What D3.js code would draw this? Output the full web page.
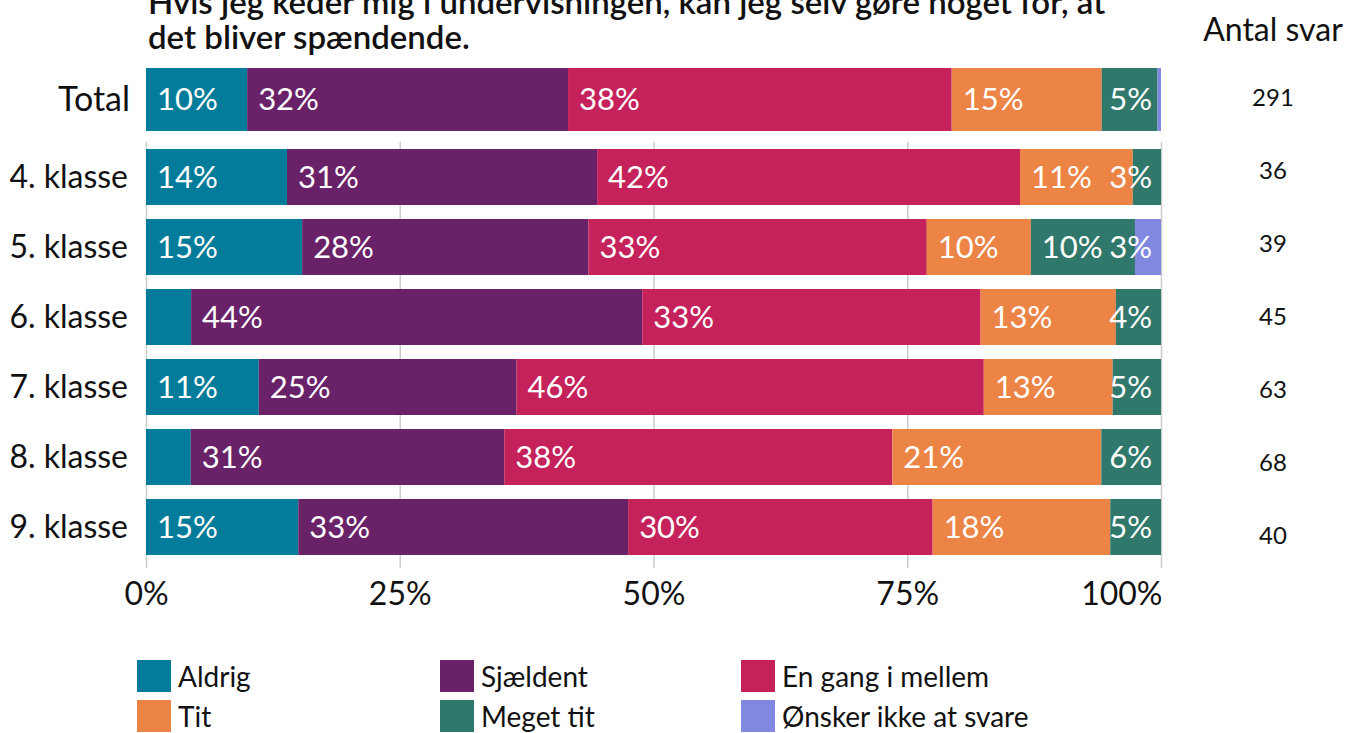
<!DOCTYPE html>
<html>
<head>
<meta charset="utf-8">
<script src="https://cdn.jsdelivr.net/npm/d3@7"></script>
<style>
  html, body { margin: 0; padding: 0; background: #fff; }
  svg { display: block; font-family: Lato, "Open Sans", sans-serif; }
</style>
</head>
<body>
<svg id="chart" width="1347" height="733"></svg>
<script>
// Answer categories (stack order) and their colours
const categories = ["Aldrig", "Sjældent", "En gang i mellem", "Tit", "Meget tit", "Ønsker ikke at svare"];
const colors = ["#037b9a", "#692168", "#c5215a", "#ec8446", "#31786c", "#8088e0"];

// Rows: grade levels and number of answers per category
const grades = ["4. klasse", "5. klasse", "6. klasse", "7. klasse", "8. klasse", "9. klasse"];
const aldrig   = [5, 6, 2, 7, 3, 6];
const sjaeldent = [11, 11, 20, 16, 21, 13];
const engang   = [15, 13, 15, 29, 26, 12];
const tit      = [4, 4, 6, 8, 14, 7];
const megetTit = [1, 4, 2, 3, 4, 2];
const oensker  = [0, 1, 0, 0, 0, 0];

const xTicks = [0, 0.25, 0.5, 0.75, 1];
const titleLines = ["Hvis jeg keder mig i undervisningen, kan jeg selv gøre noget for, at", "det bliver spændende."];
const countHeader = "Antal svar";

const seriesCounts = [aldrig, sjaeldent, engang, tit, megetTit, oensker];
const sum = arr => arr.reduce((a, b) => a + b, 0);

// Build rows (Total first)
const rows = [];
const totalCounts = seriesCounts.map(s => sum(s));
rows.push({ name: "Total", counts: totalCounts, n: sum(totalCounts) });
grades.forEach((g, i) => {
  const c = seriesCounts.map(s => s[i]);
  rows.push({ name: g, counts: c, n: sum(c) });
});

const svg = d3.select("#chart");
const fontSize = 31;

const x = d3.scaleLinear().domain([0, 1]).range([146, 1161]);
const yTotal = d3.scaleBand().domain(["Total"]).range([68, 131]);
const yGrades = d3.scaleBand().domain(grades).range([142, 562]).paddingInner(0.2).paddingOuter(0.1);
const yCount = d3.scalePoint().domain(rows.map(r => r.name)).range([98, 536]);

const yPos = name => name === "Total" ? yTotal(name) : yGrades(name);
const yBw = name => name === "Total" ? yTotal.bandwidth() : yGrades.bandwidth();

// Title
svg.append("g").selectAll("text").data(titleLines).join("text")
  .attr("x", 148).attr("y", (d, i) => 14 + i * 35)
  .attr("font-size", 33).attr("font-weight", 600).attr("fill", "#111")
  .text(d => d);

// Grid / axis for the grade panel
const axis = d3.axisBottom(x).tickValues(xTicks).tickFormat(d3.format(".0%")).tickSize(568 - 142).tickPadding(14);
const axG = svg.append("g").attr("transform", "translate(0,142)").call(axis);
axG.select(".domain").remove();
axG.selectAll(".tick line").attr("stroke", "#cccccc").attr("stroke-width", 1.5);
axG.selectAll(".tick text").attr("font-size", 32).attr("fill", "#111").attr("font-family", "Lato, sans-serif")
  .attr("text-anchor", d => d === 1 ? "end" : "middle")
  .attr("dx", d => d === 1 ? 1 : 0);

// Stacked segments
const stack = rows.map(r => {
  let acc = 0;
  return r.counts.map((c, k) => {
    const v = c / r.n;
    const seg = { row: r.name, k, v, x0: acc, x1: acc + v };
    acc += v;
    return seg;
  });
});

const barsG = svg.append("g");
stack.forEach(segs => {
  barsG.selectAll(null).data(segs.filter(s => s.v > 0)).join("rect")
    .attr("x", d => x(d.x0)).attr("width", d => x(d.x1) - x(d.x0))
    .attr("y", d => yPos(d.row)).attr("height", d => yBw(d.row))
    .attr("fill", d => colors[d.k]);
});

// Value labels: left aligned inside segment, kept inside bar end, dropped on collision
const labelG = svg.append("g");
const measure = svg.append("text").attr("font-size", fontSize).attr("visibility", "hidden");
const textW = t => { measure.text(t); return measure.node().getComputedTextLength(); };
stack.forEach(segs => {
  const cands = segs.map(s => {
    const t = Math.round(s.v * 100) + "%";
    const w = textW(t);
    const lx = Math.min(x(s.x0) + 11, x(1) - 9 - w);
    return { s, t, w, lx };
  });
  const placed = [];
  cands.slice().sort((a, b) => b.s.v - a.s.v).forEach(c => {
    if (c.s.v <= 0) return;
    const hit = placed.some(p => c.lx < p.lx + p.w + 4 && p.lx < c.lx + c.w + 4);
    if (!hit) placed.push(c);
  });
  labelG.selectAll(null).data(placed).join("text")
    .attr("x", d => d.lx)
    .attr("y", d => yPos(d.s.row) + yBw(d.s.row) / 2)
    .attr("dy", "0.35em")
    .attr("font-size", fontSize).attr("fill", "#fff")
    .text(d => d.t);
});
measure.remove();

// Row labels
svg.append("g").selectAll("text").data(rows).join("text")
  .attr("x", d => d.name === "Total" ? 130 : 128)
  .attr("y", d => yPos(d.name) + yBw(d.name) / 2)
  .attr("dy", "0.35em").attr("text-anchor", "end")
  .attr("font-size", d => d.name === "Total" ? 34 : 32)
  .attr("fill", "#111")
  .text(d => d.name);

// Count column
svg.append("text").attr("x", 1273).attr("y", 30).attr("dy", "0.35em")
  .attr("text-anchor", "middle").attr("font-size", 32).attr("fill", "#111").text(countHeader);
svg.append("g").selectAll("text").data(rows).join("text")
  .attr("x", 1273).attr("y", d => yCount(d.name)).attr("dy", "0.35em")
  .attr("text-anchor", "middle").attr("font-size", 24).attr("fill", "#111")
  .text(d => d.n);

// Legend
const legend = svg.append("g");
const legItems = legend.selectAll("g").data(categories).join("g")
  .attr("transform", (d, i) => `translate(${[137, 440, 741][i % 3]},${660 + Math.floor(i / 3) * 40})`);
legItems.append("rect").attr("width", 34).attr("height", 32).attr("fill", (d, i) => colors[i]);
legItems.append("text").attr("x", 41).attr("y", 17).attr("dy", "0.35em")
  .attr("font-size", 28).attr("fill", "#111").text(d => d);
</script>
</body>
</html>
